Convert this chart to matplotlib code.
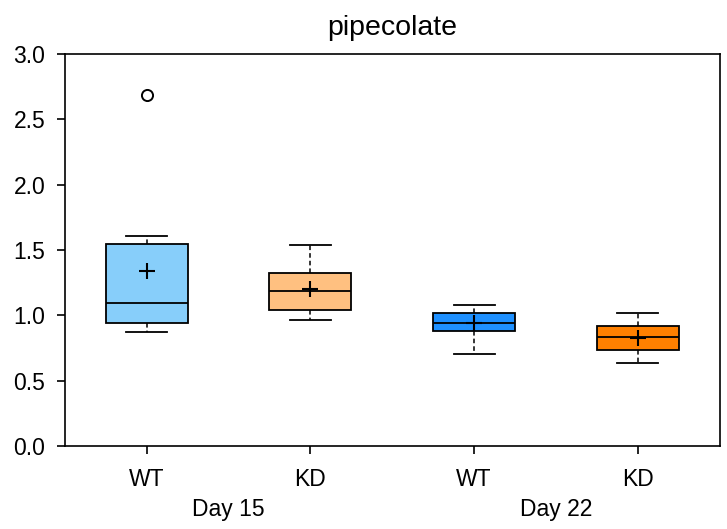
import matplotlib; matplotlib.use("Agg")
import matplotlib.pyplot as plt

plt.rcParams["font.family"] = ["Liberation Sans", "DejaVu Sans"]

groups = ["WT", "KD", "WT", "KD"]
days = ["Day 15", "Day 22"]
colors = ["#87CEFA", "#FFC080", "#1E90FF", "#FF8000"]
q1 = [0.941, 1.040, 0.880, 0.732]
med = [1.094, 1.186, 0.943, 0.836]
q3 = [1.546, 1.324, 1.015, 0.921]
whislo = [0.872, 0.964, 0.704, 0.633]
whishi = [1.607, 1.538, 1.081, 1.020]
means = [1.339, 1.200, 0.939, 0.829]
fliers = [[2.686], [], [], []]

stats = [dict(q1=a, med=m, q3=b, whislo=lo, whishi=hi, mean=mn, fliers=f)
         for a, m, b, lo, hi, mn, f in zip(q1, med, q3, whislo, whishi, means, fliers)]

fig, ax = plt.subplots(figsize=(7.27, 5.29), dpi=100)
fig.subplots_adjust(left=0.089, right=0.99, top=0.898, bottom=0.157)
pos = [1, 2, 3, 4]
bp = ax.bxp(stats, positions=pos, widths=0.5, patch_artist=True, showmeans=True,
            boxprops=dict(linewidth=1.3, edgecolor="black"),
            medianprops=dict(color="black", linewidth=1.3),
            whiskerprops=dict(linestyle=(0, (3, 2)), linewidth=1.1, color="black"),
            capprops=dict(linewidth=1.3, color="black"),
            meanprops=dict(marker="+", markeredgecolor="black", markersize=12, markeredgewidth=1.5),
            flierprops=dict(marker="o", markerfacecolor="none", markeredgecolor="black",
                            markersize=8, markeredgewidth=1.4))
for patch, c in zip(bp["boxes"], colors):
    patch.set_facecolor(c)
for cap in bp["caps"]:
    x0, x1 = cap.get_xdata()
    xc = (x0 + x1) / 2
    cap.set_xdata([xc - 0.125, xc + 0.125])

ax.set_xlim(0.5, 4.5)
ax.set_ylim(0, 3.0)
ax.set_yticks([0, 0.5, 1.0, 1.5, 2.0, 2.5, 3.0])
ax.set_yticklabels(["0.0", "0.5", "1.0", "1.5", "2.0", "2.5", "3.0"])
ax.set_xticks(pos)
ax.set_xticklabels(groups)
ax.tick_params(labelsize=16.5, length=6, width=1.2)
ax.tick_params(axis="x", pad=10)
ax.tick_params(axis="y", pad=8)
for s in ax.spines.values():
    s.set_linewidth(1.2)
for i, d in enumerate(days):
    ax.text(1.5 + 2 * i, -0.49, d, ha="center", va="center", fontsize=16.5,
            transform=ax.transData, clip_on=False)
ax.set_title("pipecolate", fontsize=20.5, pad=14)
fig.savefig("out.png", dpi=100)
